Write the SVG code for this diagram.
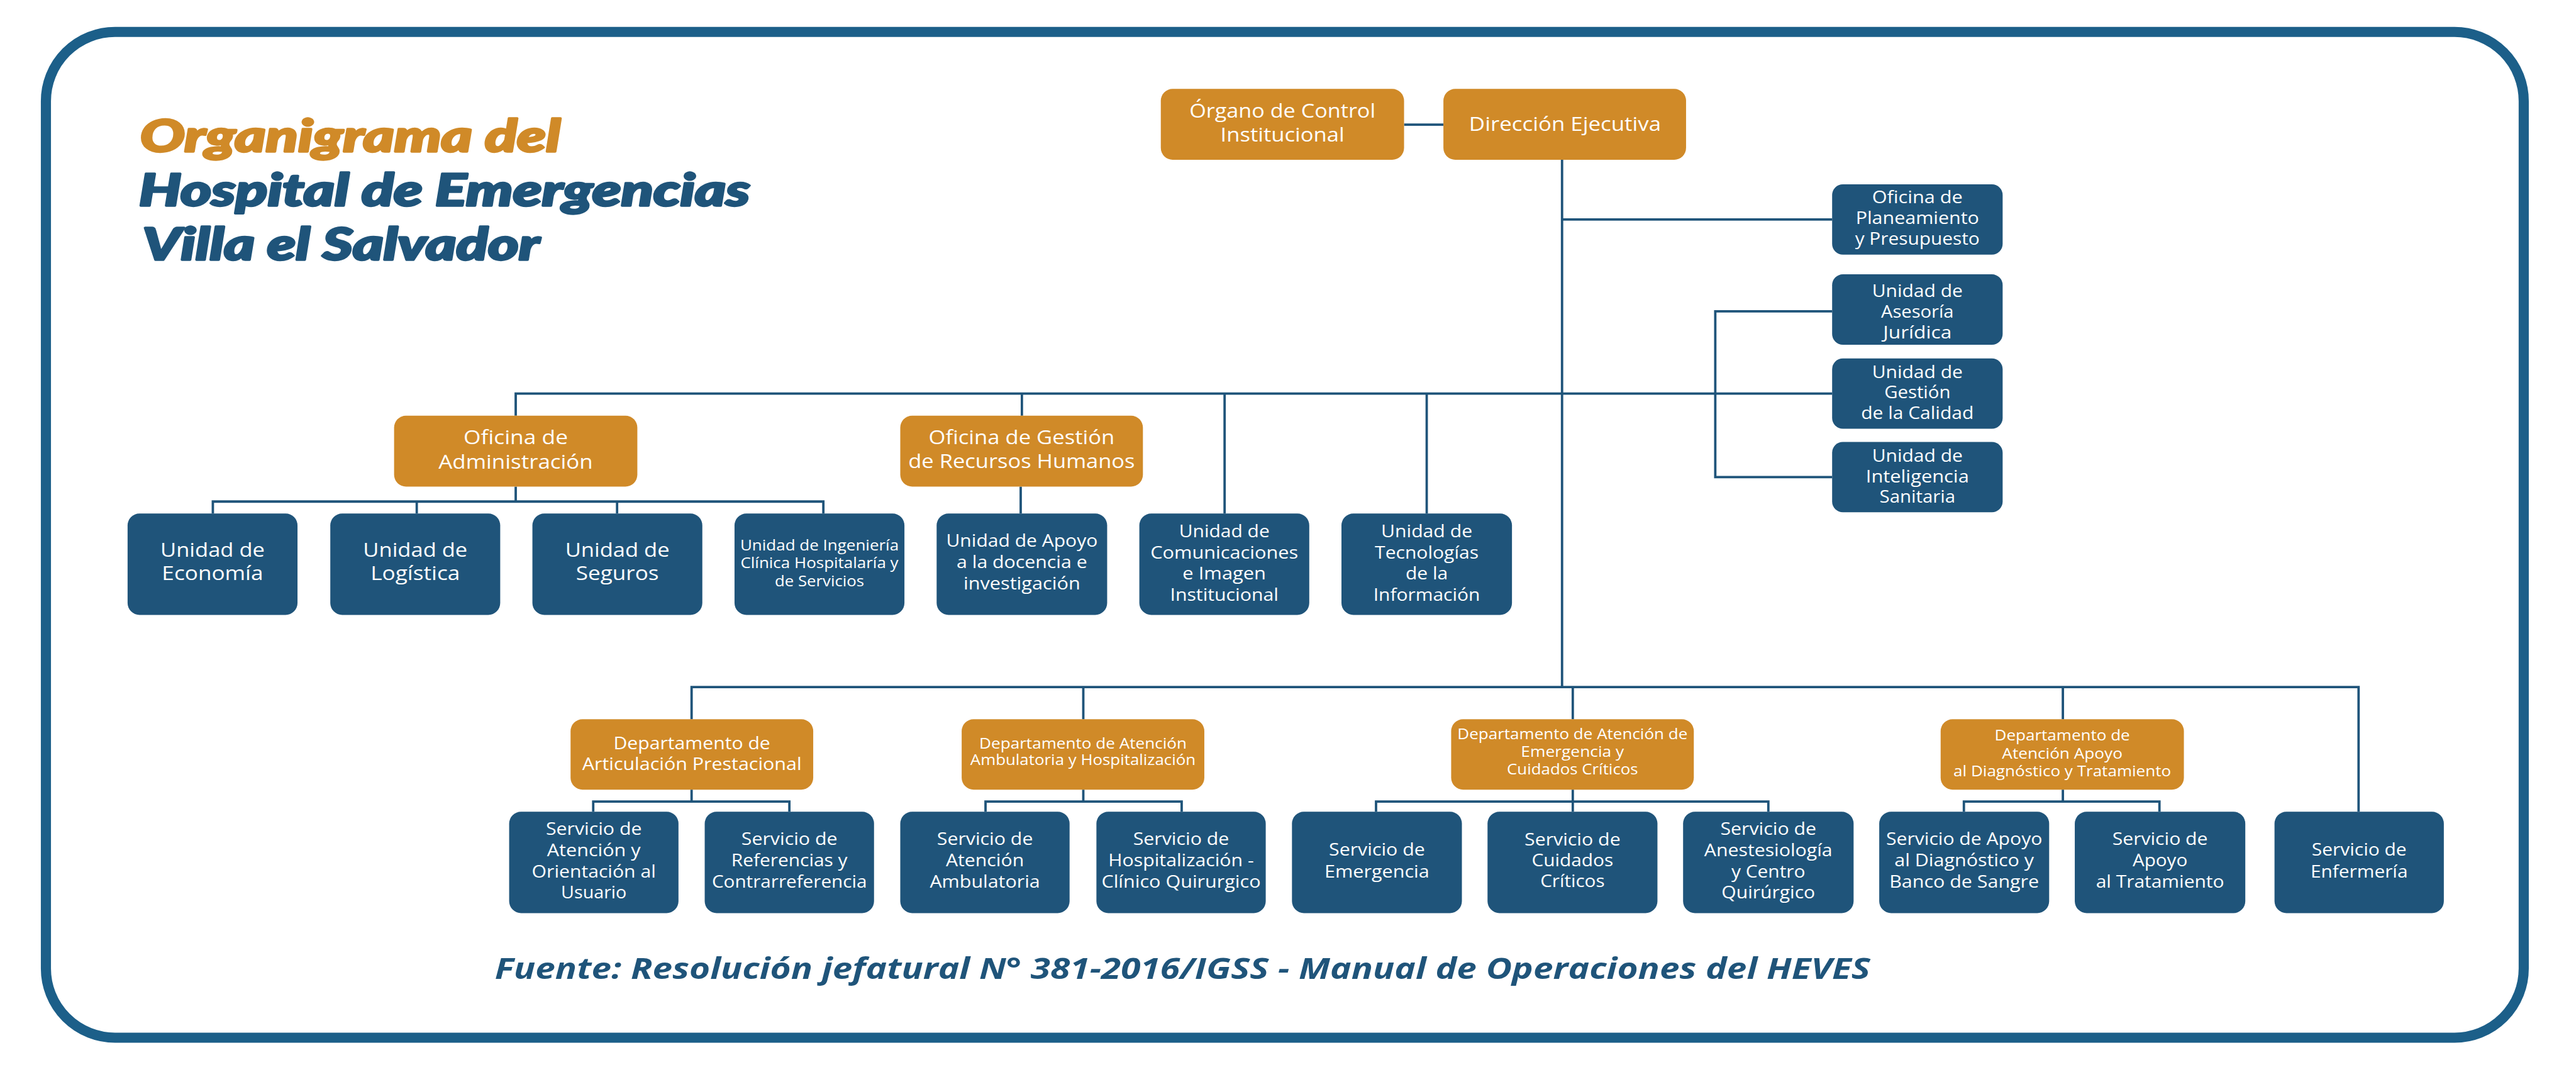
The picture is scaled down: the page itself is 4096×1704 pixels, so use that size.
<svg xmlns="http://www.w3.org/2000/svg" width="4096" height="1704" viewBox="0 0 4096 1704">
<style>
.o{fill:#D08A28}
.b{fill:#1F547A}
.t{font-family:"Open Sans","Liberation Sans",sans-serif;fill:#fff;text-anchor:middle}
.s24{font-size:24px}.s25{font-size:25px}.s28{font-size:28px}.s29{font-size:29px}.s32{font-size:32px}.s33{font-size:33px}
.c{fill:none;stroke:#1F547A;stroke-width:4}
.title{font-family:Lato,"Liberation Sans",sans-serif;font-weight:900;font-style:italic;font-size:75px;stroke-width:3.5;stroke-linejoin:round}
.tor{fill:#D08A28;stroke:#D08A28}
.tbl{fill:#1F547A;stroke:#1F547A}
.foot{font-family:"Open Sans","Liberation Sans",sans-serif;font-weight:700;font-style:italic;font-size:50px;fill:#1F547A}
</style>
<rect width="4096" height="1704" fill="#fff"/>
<g transform="scale(0.948)">
<rect id="frame" x="77" y="53.5" width="4156" height="1686.5" rx="116" fill="none" stroke="#1C5F89" stroke-width="17"/>
<g id="title">
<text class="title tor" x="235" y="254" textLength="705" lengthAdjust="spacingAndGlyphs">Organigrama del</text>
<text class="title tbl" x="233" y="345" textLength="1025" lengthAdjust="spacingAndGlyphs">Hospital de Emergencias</text>
<text class="title tbl" x="239" y="436" textLength="666" lengthAdjust="spacingAndGlyphs">Villa el Salvador</text>
</g>
<g id="connectors">
<path class="c" d="M2355 209H2421"/>
<path class="c" d="M2620 268V1152"/>
<path class="c" d="M2620 368H3073"/>
<path class="c" d="M865 697V660H3073"/>
<path class="c" d="M1714 660V697"/>
<path class="c" d="M2054 660V861"/>
<path class="c" d="M2393 660V861"/>
<path class="c" d="M3073 522H2877V800H3073"/>
<path class="c" d="M865 816V841"/>
<path class="c" d="M357 861V841H1381V861"/>
<path class="c" d="M699 841V861"/>
<path class="c" d="M1035 841V861"/>
<path class="c" d="M1712 816V861"/>
<path class="c" d="M1160 1206V1152H3956V1361"/>
<path class="c" d="M1817 1152V1206"/>
<path class="c" d="M2638 1152V1206"/>
<path class="c" d="M3460 1152V1206"/>
<path class="c" d="M1160 1324V1344"/>
<path class="c" d="M995 1361V1344H1324V1361"/>
<path class="c" d="M1817 1324V1344"/>
<path class="c" d="M1653 1361V1344H1982V1361"/>
<path class="c" d="M2638 1324V1361"/>
<path class="c" d="M2308 1361V1344H2966V1361"/>
<path class="c" d="M3460 1324V1344"/>
<path class="c" d="M3294 1361V1344H3622V1361"/>
</g>
<g id="organo"><rect class="o" x="1947" y="149" width="408" height="119" rx="20"/>
<text class="t s32" x="2151" y="197" textLength="312" lengthAdjust="spacingAndGlyphs">Órgano de Control</text>
<text class="t s32" x="2151" y="237" textLength="208" lengthAdjust="spacingAndGlyphs">Institucional</text></g>
<g id="direccion"><rect class="o" x="2421" y="149" width="407" height="119" rx="20"/>
<text class="t s32" x="2625" y="219" textLength="322" lengthAdjust="spacingAndGlyphs">Dirección Ejecutiva</text></g>
<g id="planeamiento"><rect class="b" x="3073" y="309" width="286" height="118" rx="18"/>
<text class="t s28" x="3216" y="341" textLength="152" lengthAdjust="spacingAndGlyphs">Oficina de</text>
<text class="t s28" x="3216" y="376" textLength="207" lengthAdjust="spacingAndGlyphs">Planeamiento</text>
<text class="t s28" x="3216" y="410" textLength="209" lengthAdjust="spacingAndGlyphs">y Presupuesto</text></g>
<g id="asesoria"><rect class="b" x="3073" y="460" width="286" height="118" rx="18"/>
<text class="t s28" x="3216" y="498" textLength="152" lengthAdjust="spacingAndGlyphs">Unidad de</text>
<text class="t s28" x="3216" y="533" textLength="122" lengthAdjust="spacingAndGlyphs">Asesoría</text>
<text class="t s28" x="3216" y="567" textLength="115" lengthAdjust="spacingAndGlyphs">Jurídica</text></g>
<g id="calidad"><rect class="b" x="3073" y="601" width="286" height="118" rx="18"/>
<text class="t s28" x="3216" y="634" textLength="152" lengthAdjust="spacingAndGlyphs">Unidad de</text>
<text class="t s28" x="3216" y="668" textLength="111" lengthAdjust="spacingAndGlyphs">Gestión</text>
<text class="t s28" x="3216" y="703" textLength="189" lengthAdjust="spacingAndGlyphs">de la Calidad</text></g>
<g id="inteligencia"><rect class="b" x="3073" y="741" width="286" height="118" rx="18"/>
<text class="t s28" x="3216" y="774" textLength="152" lengthAdjust="spacingAndGlyphs">Unidad de</text>
<text class="t s28" x="3216" y="809" textLength="173" lengthAdjust="spacingAndGlyphs">Inteligencia</text>
<text class="t s28" x="3216" y="843" textLength="127" lengthAdjust="spacingAndGlyphs">Sanitaria</text></g>
<g id="administracion"><rect class="o" x="661" y="697" width="408" height="119" rx="20"/>
<text class="t s33" x="865" y="745" textLength="175" lengthAdjust="spacingAndGlyphs">Oficina de</text>
<text class="t s33" x="865" y="786" textLength="259" lengthAdjust="spacingAndGlyphs">Administración</text></g>
<g id="rrhh"><rect class="o" x="1510" y="697" width="407" height="119" rx="20"/>
<text class="t s33" x="1713.5" y="745" textLength="312" lengthAdjust="spacingAndGlyphs">Oficina de Gestión</text>
<text class="t s33" x="1713.5" y="785" textLength="380" lengthAdjust="spacingAndGlyphs">de Recursos Humanos</text></g>
<g id="economia"><rect class="b" x="214" y="861" width="285" height="170" rx="20"/>
<text class="t s32" x="356.5" y="934" textLength="175" lengthAdjust="spacingAndGlyphs">Unidad de</text>
<text class="t s32" x="356.5" y="973" textLength="170" lengthAdjust="spacingAndGlyphs">Economía</text></g>
<g id="logistica"><rect class="b" x="554" y="861" width="285" height="170" rx="20"/>
<text class="t s32" x="696.5" y="934" textLength="175" lengthAdjust="spacingAndGlyphs">Unidad de</text>
<text class="t s32" x="696.5" y="973" textLength="150" lengthAdjust="spacingAndGlyphs">Logística</text></g>
<g id="seguros"><rect class="b" x="893" y="861" width="285" height="170" rx="20"/>
<text class="t s32" x="1035.5" y="934" textLength="175" lengthAdjust="spacingAndGlyphs">Unidad de</text>
<text class="t s32" x="1035.5" y="973" textLength="139" lengthAdjust="spacingAndGlyphs">Seguros</text></g>
<g id="ingenieria"><rect class="b" x="1232" y="861" width="285" height="170" rx="20"/>
<text class="t s25" x="1374.5" y="923" textLength="266" lengthAdjust="spacingAndGlyphs">Unidad de Ingeniería</text>
<text class="t s25" x="1374.5" y="953" textLength="265" lengthAdjust="spacingAndGlyphs">Clínica Hospitalaría y</text>
<text class="t s25" x="1374.5" y="983" textLength="150" lengthAdjust="spacingAndGlyphs">de Servicios</text></g>
<g id="docencia"><rect class="b" x="1571" y="861" width="286" height="170" rx="20"/>
<text class="t s29" x="1714" y="917" textLength="254" lengthAdjust="spacingAndGlyphs">Unidad de Apoyo</text>
<text class="t s29" x="1714" y="953" textLength="219" lengthAdjust="spacingAndGlyphs">a la docencia e</text>
<text class="t s29" x="1714" y="988" textLength="196" lengthAdjust="spacingAndGlyphs">investigación</text></g>
<g id="comunicaciones"><rect class="b" x="1911" y="861" width="285" height="170" rx="20"/>
<text class="t s29" x="2053.5" y="901" textLength="152" lengthAdjust="spacingAndGlyphs">Unidad de</text>
<text class="t s29" x="2053.5" y="937" textLength="248" lengthAdjust="spacingAndGlyphs">Comunicaciones</text>
<text class="t s29" x="2053.5" y="972" textLength="140" lengthAdjust="spacingAndGlyphs">e Imagen</text>
<text class="t s29" x="2053.5" y="1007" textLength="182" lengthAdjust="spacingAndGlyphs">Institucional</text></g>
<g id="tecnologias"><rect class="b" x="2250" y="861" width="286" height="170" rx="20"/>
<text class="t s29" x="2393" y="901" textLength="153" lengthAdjust="spacingAndGlyphs">Unidad de</text>
<text class="t s29" x="2393" y="937" textLength="174" lengthAdjust="spacingAndGlyphs">Tecnologías</text>
<text class="t s29" x="2393" y="972" textLength="71" lengthAdjust="spacingAndGlyphs">de la</text>
<text class="t s29" x="2393" y="1007" textLength="179" lengthAdjust="spacingAndGlyphs">Información</text></g>
<g id="dep-articulacion"><rect class="o" x="957" y="1206" width="407" height="118" rx="20"/>
<text class="t s29" x="1160.5" y="1256" textLength="263" lengthAdjust="spacingAndGlyphs">Departamento de</text>
<text class="t s29" x="1160.5" y="1291" textLength="368" lengthAdjust="spacingAndGlyphs">Articulación Prestacional</text></g>
<g id="dep-ambulatoria"><rect class="o" x="1613" y="1206" width="407" height="118" rx="20"/>
<text class="t s24" x="1816.5" y="1255" textLength="348" lengthAdjust="spacingAndGlyphs">Departamento de Atención</text>
<text class="t s24" x="1816.5" y="1283" textLength="378" lengthAdjust="spacingAndGlyphs">Ambulatoria y Hospitalización</text></g>
<g id="dep-emergencia"><rect class="o" x="2434" y="1206" width="407" height="118" rx="20"/>
<text class="t s25" x="2637.5" y="1239" textLength="386" lengthAdjust="spacingAndGlyphs">Departamento de Atención de</text>
<text class="t s25" x="2637.5" y="1269" textLength="173" lengthAdjust="spacingAndGlyphs">Emergencia y</text>
<text class="t s25" x="2637.5" y="1299" textLength="220" lengthAdjust="spacingAndGlyphs">Cuidados Críticos</text></g>
<g id="dep-apoyo"><rect class="o" x="3255" y="1206" width="408" height="118" rx="20"/>
<text class="t s25" x="3459" y="1242" textLength="227" lengthAdjust="spacingAndGlyphs">Departamento de</text>
<text class="t s25" x="3459" y="1272" textLength="202" lengthAdjust="spacingAndGlyphs">Atención Apoyo</text>
<text class="t s25" x="3459" y="1302" textLength="365" lengthAdjust="spacingAndGlyphs">al Diagnóstico y Tratamiento</text></g>
<g id="srv-atencion-usuario"><rect class="b" x="854" y="1361" width="284" height="170" rx="20"/>
<text class="t s29" x="996" y="1400" textLength="161" lengthAdjust="spacingAndGlyphs">Servicio de</text>
<text class="t s29" x="996" y="1436" textLength="157" lengthAdjust="spacingAndGlyphs">Atención y</text>
<text class="t s29" x="996" y="1471" textLength="208" lengthAdjust="spacingAndGlyphs">Orientación al</text>
<text class="t s29" x="996" y="1506" textLength="110" lengthAdjust="spacingAndGlyphs">Usuario</text></g>
<g id="srv-referencias"><rect class="b" x="1182" y="1361" width="284" height="170" rx="20"/>
<text class="t s29" x="1324" y="1417" textLength="161" lengthAdjust="spacingAndGlyphs">Servicio de</text>
<text class="t s29" x="1324" y="1453" textLength="195" lengthAdjust="spacingAndGlyphs">Referencias y</text>
<text class="t s29" x="1324" y="1488" textLength="260" lengthAdjust="spacingAndGlyphs">Contrarreferencia</text></g>
<g id="srv-ambulatoria"><rect class="b" x="1510" y="1361" width="284" height="170" rx="20"/>
<text class="t s29" x="1652" y="1417" textLength="161" lengthAdjust="spacingAndGlyphs">Servicio de</text>
<text class="t s29" x="1652" y="1453" textLength="131" lengthAdjust="spacingAndGlyphs">Atención</text>
<text class="t s29" x="1652" y="1488" textLength="185" lengthAdjust="spacingAndGlyphs">Ambulatoria</text></g>
<g id="srv-hospitalizacion"><rect class="b" x="1839" y="1361" width="284" height="170" rx="20"/>
<text class="t s29" x="1981" y="1417" textLength="161" lengthAdjust="spacingAndGlyphs">Servicio de</text>
<text class="t s29" x="1981" y="1453" textLength="244" lengthAdjust="spacingAndGlyphs">Hospitalización -</text>
<text class="t s29" x="1981" y="1488" textLength="267" lengthAdjust="spacingAndGlyphs">Clínico Quirurgico</text></g>
<g id="srv-emergencia"><rect class="b" x="2167" y="1361" width="285" height="170" rx="20"/>
<text class="t s29" x="2309.5" y="1435" textLength="161" lengthAdjust="spacingAndGlyphs">Servicio de</text>
<text class="t s29" x="2309.5" y="1471" textLength="176" lengthAdjust="spacingAndGlyphs">Emergencia</text></g>
<g id="srv-cuidados"><rect class="b" x="2495" y="1361" width="285" height="170" rx="20"/>
<text class="t s29" x="2637.5" y="1418" textLength="161" lengthAdjust="spacingAndGlyphs">Servicio de</text>
<text class="t s29" x="2637.5" y="1453" textLength="137" lengthAdjust="spacingAndGlyphs">Cuidados</text>
<text class="t s29" x="2637.5" y="1487" textLength="108" lengthAdjust="spacingAndGlyphs">Críticos</text></g>
<g id="srv-anestesiologia"><rect class="b" x="2823" y="1361" width="286" height="170" rx="20"/>
<text class="t s29" x="2966" y="1400" textLength="161" lengthAdjust="spacingAndGlyphs">Servicio de</text>
<text class="t s29" x="2966" y="1436" textLength="215" lengthAdjust="spacingAndGlyphs">Anestesiología</text>
<text class="t s29" x="2966" y="1471" textLength="124" lengthAdjust="spacingAndGlyphs">y Centro</text>
<text class="t s29" x="2966" y="1506" textLength="157" lengthAdjust="spacingAndGlyphs">Quirúrgico</text></g>
<g id="srv-apoyo-diagnostico"><rect class="b" x="3152" y="1361" width="285" height="170" rx="20"/>
<text class="t s29" x="3294.5" y="1417" textLength="262" lengthAdjust="spacingAndGlyphs">Servicio de Apoyo</text>
<text class="t s29" x="3294.5" y="1453" textLength="234" lengthAdjust="spacingAndGlyphs">al Diagnóstico y</text>
<text class="t s29" x="3294.5" y="1488" textLength="251" lengthAdjust="spacingAndGlyphs">Banco de Sangre</text></g>
<g id="srv-apoyo-tratamiento"><rect class="b" x="3480" y="1361" width="286" height="170" rx="20"/>
<text class="t s29" x="3623" y="1417" textLength="160" lengthAdjust="spacingAndGlyphs">Servicio de</text>
<text class="t s29" x="3623" y="1453" textLength="92" lengthAdjust="spacingAndGlyphs">Apoyo</text>
<text class="t s29" x="3623" y="1488" textLength="215" lengthAdjust="spacingAndGlyphs">al Tratamiento</text></g>
<g id="srv-enfermeria"><rect class="b" x="3815" y="1361" width="284" height="170" rx="20"/>
<text class="t s29" x="3957" y="1435" textLength="159" lengthAdjust="spacingAndGlyphs">Servicio de</text>
<text class="t s29" x="3957" y="1471" textLength="163" lengthAdjust="spacingAndGlyphs">Enfermería</text></g>
<text id="fuente" class="foot" x="830" y="1641" textLength="2307" lengthAdjust="spacingAndGlyphs">Fuente: Resolución jefatural N° 381-2016/IGSS - Manual de Operaciones del HEVES</text>
</g>
</svg>
